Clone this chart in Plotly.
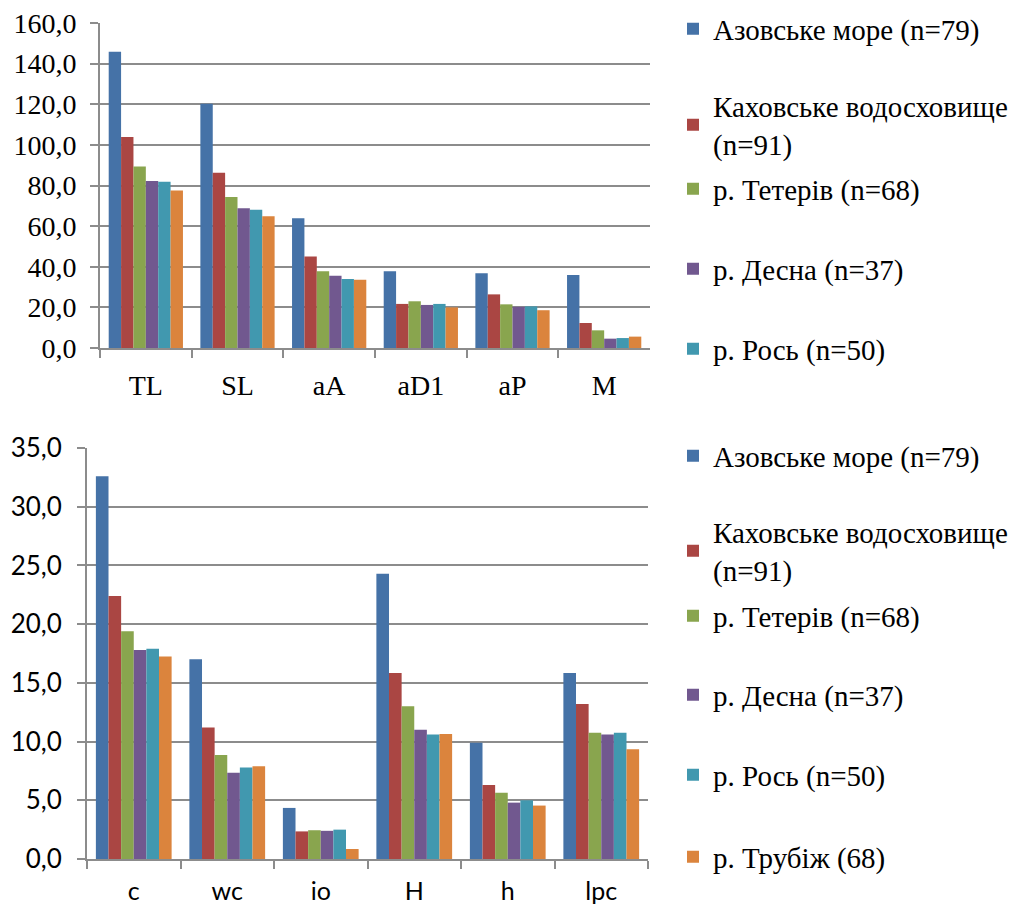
import plotly.graph_objects as go

series_names = ["Азовське море (n=79)", "Каховське водосховище<br>(n=91)",
                "р. Тетерів (n=68)", "р. Десна (n=37)", "р. Рось (n=50)", "р. Трубіж (68)"]
colors = ["#4572A7", "#AA4643", "#89A54E", "#71588F", "#4198AF", "#DB843D"]

cats_top = ["TL", "SL", "aA", "aD1", "aP", "M"]
top_vals = [
    [145.9, 120.3, 63.9, 37.8, 36.8, 35.9],
    [103.9, 86.3, 45.1, 21.7, 26.4, 12.3],
    [89.4, 74.3, 37.8, 23.0, 21.5, 8.7],
    [82.2, 68.8, 35.6, 21.2, 20.3, 4.6],
    [81.9, 68.1, 34.0, 21.7, 20.5, 4.9],
    [77.5, 64.8, 33.6, 20.0, 18.6, 5.6],
]

cats_bot = ["c", "wc", "io", "H", "h", "lpc"]
bot_vals = [
    [32.6, 17.0, 4.35, 24.3, 9.9, 15.85],
    [22.4, 11.2, 2.35, 15.85, 6.3, 13.2],
    [19.4, 8.85, 2.45, 13.0, 5.65, 10.75],
    [17.8, 7.35, 2.4, 11.0, 4.8, 10.6],
    [17.9, 7.8, 2.5, 10.6, 5.0, 10.75],
    [17.25, 7.9, 0.85, 10.65, 4.55, 9.35],
]

W, H = 1016, 906
OX, OY = 8, 9  # page offset of the figure inside the browser window
SERIF = "Liberation Serif"
SANS = "Lato"
GRID = "#8C8C8C"

fig = go.Figure()

# top chart traces
for i in range(6):
    lg = "legend" if i == 0 else f"legend{i+1}"
    fig.add_trace(go.Bar(x=cats_top, y=top_vals[i], name=series_names[i],
                         marker=dict(color=colors[i], line=dict(width=0)),
                         xaxis="x", yaxis="y", legend=lg,
                         showlegend=(i < 5)))
# bottom chart traces
for i in range(6):
    lg = f"legend{i+7}"
    fig.add_trace(go.Bar(x=cats_bot, y=bot_vals[i], name=series_names[i],
                         marker=dict(color=colors[i], line=dict(width=0)),
                         xaxis="x2", yaxis="y2", legend=lg, showlegend=True))

def py(px):
    return 1 - (px - OY) / H

def px_x(px):
    return (px - OX) / W

axis_common = dict(ticks="outside", ticklen=8, tickcolor=GRID, tickwidth=2,
                   showline=True, linecolor=GRID, linewidth=2, automargin=False)

layout = dict(
    width=W, height=H, margin=dict(l=0, r=0, t=0, b=0, autoexpand=False),
    paper_bgcolor="white", plot_bgcolor="white", showlegend=True,
    separators=", ", barmode="group", bargap=0.19, bargroupgap=0,
    xaxis=dict(domain=[px_x(100), px_x(650)], anchor="y", type="category",
               tickson="boundaries", showgrid=False,
               tickfont=dict(family=SERIF, size=28, color="black"), ticklabelstandoff=11,
               **axis_common),
    yaxis=dict(domain=[py(349), py(24)], anchor="x", range=[0, 160], dtick=20,
               tickmode="linear", tick0=0,
               tickformat=".1f", showgrid=True, gridcolor=GRID, gridwidth=2,
               zeroline=False, ticklabeloverflow="allow",
               tickfont=dict(family=SERIF, size=28, color="black"), ticklabelstandoff=8,
               **axis_common),
    xaxis2=dict(domain=[px_x(87), px_x(648)], anchor="y2", type="category",
                tickson="boundaries", showgrid=False, ticklabeloverflow="allow",
                tickfont=dict(family=SANS, size=25, color="black"), ticklabelstandoff=9,
                **axis_common),
    yaxis2=dict(domain=[py(860), py(449)], anchor="x2", range=[0, 35], dtick=5,
                tickmode="linear", tick0=0,
                tickformat=".1f", showgrid=True, gridcolor=GRID, gridwidth=2,
                zeroline=False, ticklabeloverflow="allow",
                tickfont=dict(family=SANS, size=26, color="black"), ticklabelstandoff=10,
                **axis_common),
)

top_leg_y = [32, 128, 192, 272, 352]
bot_leg_y = [459, 554, 619, 698, 778, 860]
leg_x = px_x(673)
LEG_DY = 2
for i, yy in enumerate(top_leg_y):
    key = "legend" if i == 0 else f"legend{i+1}"
    layout[key] = dict(x=leg_x, y=py(yy - LEG_DY), xanchor="left", yanchor="middle",
                       bgcolor="rgba(0,0,0,0)", borderwidth=0,
                       font=dict(family=SERIF, size=29, color="black"))
for i, yy in enumerate(bot_leg_y):
    key = f"legend{i+7}"
    layout[key] = dict(x=leg_x, y=py(yy - LEG_DY), xanchor="left", yanchor="middle",
                       bgcolor="rgba(0,0,0,0)", borderwidth=0,
                       font=dict(family=SERIF, size=29, color="black"))

fig.update_layout(**layout)
fig.write_html("out.html")
